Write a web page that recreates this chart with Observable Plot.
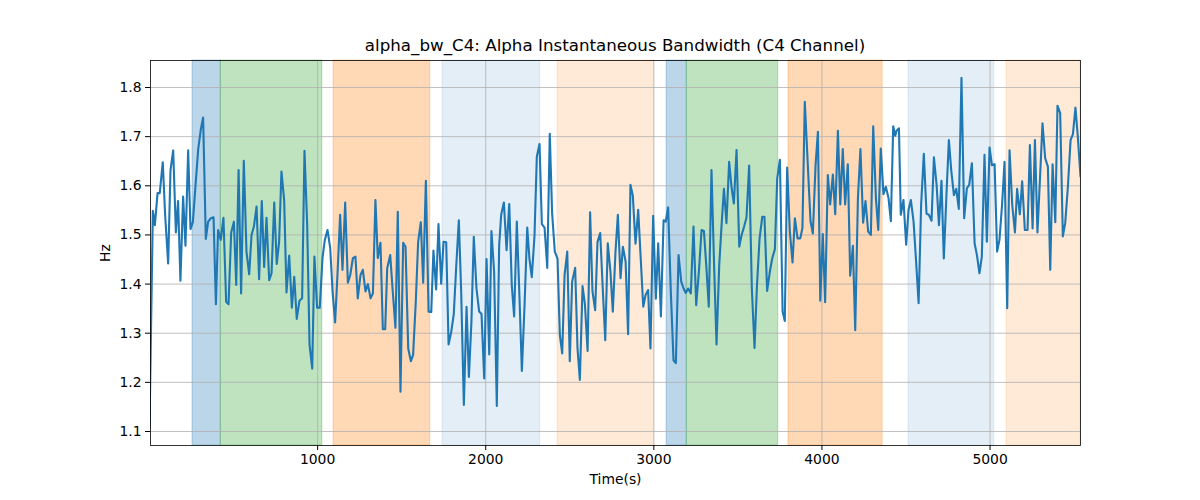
<!DOCTYPE html>
<html>
<head>
<meta charset="utf-8">
<script src="https://cdn.jsdelivr.net/npm/d3@7"></script>
<script src="https://cdn.jsdelivr.net/npm/@observablehq/plot@0.6"></script>
<style>
  body { margin: 0; background: white; }
  #wrap { width: 1200px; height: 500px; position: relative; background: white; }
  #title { width: 1200px; height: 55px; box-sizing: border-box; padding-left: 150px; padding-right: 120px;
           display: flex; align-items: flex-end; justify-content: center;
           font-family: "DejaVu Sans", sans-serif; font-size: 16.7px; line-height: 1; color: #000; padding-bottom: 1px; }
</style>
</head>
<body>
<div id="wrap">
  <div id="title">alpha_bw_C4: Alpha Instantaneous Bandwidth (C4 Channel)</div>
  <div id="chart"></div>
</div>
<script>
// Time (s) of each sample
const times = [0,20,32,48,61,79,93,111,125,141,157,170,184,200,214,230,244,258,274,290,305,319,335,349,365,381,395,408,424,440,456,470,486,502,516,530,545,561,577,593,607,621,637,652,668,682,
696,712,726,742,757,771,785,801,815,831,847,861,876,892,908,922,938,952,968,981,997,1013,1029,1043,1059,1075,1089,1104,1118,1134,1148,1164,1180,1194,1210,1225,1239,1255,1269,1285,1299,1315,1329,1344,1358,1374,
1388,1402,1414,1432,1447,1463,1477,1493,1509,1523,1539,1555,1568,1584,1598,1614,1628,1644,1660,1676,1689,1705,1719,1735,1749,1765,1779,1795,1810,1824,1840,1854,1870,1886,1900,1915,1929,1945,1961,1975,1991,2005,2021,2034,2050,2066,2080,
2092,2108,2124,2140,2155,2169,2185,2201,2215,2231,2247,2260,2274,2290,2304,2320,2334,2350,2366,2381,2395,2411,2427,2441,2455,2469,2485,2500,2514,2532,2546,2560,2576,2590,2606,2621,2635,2651,2665,2681,2697,2711,2726,2742,2756,2772,
2786,2802,2816,2832,2847,2861,2875,2891,2907,2921,2937,2951,2966,2980,2996,3012,3026,3042,3058,3071,3085,3101,3117,3131,3147,3163,3177,3190,3204,3220,3236,3252,3268,3284,3298,3313,3327,3343,3359,3373,3389,3403,3417,3432,3448,3462,
3476,3492,3508,3522,3537,3551,3567,3583,3599,3613,3629,3645,3658,3674,3690,3704,3720,3734,3750,3766,3779,3793,3809,3825,3839,3855,3871,3884,3898,3914,3932,3946,3962,3976,3990,4005,4019,4035,4049,4065,4079,4095,4109,4124,4138,4154,4168,
4184,4198,4214,4229,4245,4259,4275,4291,4305,4321,4335,4350,4366,4380,4396,4410,4424,4436,4444,4458,4469,4485,4501,4515,4529,4545,4559,4575,4590,4606,4622,4636,4652,4666,4682,4696,4711,4725,4741,4755,4769,4785,4799,4814,4830,4846,4862,
4876,4892,4908,4922,4937,4951,4967,4981,4997,5011,5027,5042,5056,5072,5086,5102,5116,5132,5148,5161,5177,5191,5207,5223,5237,5253,5267,5282,5298,5312,5328,5344,5358,5372,5388,5401,5417,5433,5447,5463,5479,5493,5508,5522,5538];

// Alpha instantaneous bandwidth (Hz)
const bandwidth = [1.107,1.549,1.520,1.585,1.585,1.648,1.541,1.442,1.632,1.672,1.505,1.569,1.407,1.578,1.478,1.672,1.512,1.526,1.602,1.675,1.714,1.739,1.492,1.527,1.534,1.536,1.359,1.510,1.490,1.535,1.364,1.359,1.505,1.527,1.398,1.632,1.381,1.651,1.466,1.420,1.500,1.517,1.558,1.410,1.569,1.435,
1.535,1.408,1.422,1.566,1.441,1.486,1.629,1.571,1.383,1.458,1.352,1.415,1.329,1.366,1.371,1.671,1.520,1.277,1.228,1.456,1.352,1.352,1.453,1.490,1.510,1.473,1.385,1.322,1.418,1.541,1.429,1.566,1.403,1.418,1.453,1.456,1.371,1.418,1.429,1.385,1.400,1.371,1.381,1.571,1.453,1.484,
1.308,1.308,1.432,1.459,1.385,1.311,1.547,1.181,1.484,1.476,1.269,1.243,1.256,1.364,1.486,1.526,1.403,1.610,1.344,1.343,1.468,1.389,1.522,1.401,1.486,1.485,1.277,1.303,1.339,1.432,1.530,1.385,1.154,1.354,1.211,1.323,1.496,1.391,1.344,1.339,1.208,1.451,1.257,1.508,1.425,1.152,1.479,
1.541,1.566,1.469,1.563,1.398,1.334,1.527,1.371,1.223,1.357,1.515,1.452,1.414,1.497,1.659,1.685,1.522,1.515,1.433,1.706,1.544,1.466,1.452,1.296,1.259,1.418,1.466,1.243,1.405,1.433,1.269,1.205,1.396,1.359,1.264,1.546,1.385,1.347,1.486,1.504,1.385,1.286,1.483,1.425,1.344,1.466,
1.541,1.412,1.476,1.446,1.298,1.602,1.580,1.482,1.551,1.459,1.354,1.378,1.388,1.269,1.539,1.370,1.483,1.334,1.530,1.527,1.556,1.385,1.245,1.239,1.459,1.405,1.391,1.382,1.391,1.381,1.517,1.357,1.425,1.510,1.508,1.432,1.354,1.632,1.432,1.277,1.439,1.520,1.594,1.524,1.649,1.598,
1.564,1.673,1.476,1.500,1.517,1.535,1.641,1.391,1.270,1.393,1.493,1.537,1.537,1.386,1.425,1.452,1.471,1.615,1.653,1.344,1.325,1.637,1.507,1.444,1.534,1.493,1.493,1.514,1.771,1.656,1.528,1.503,1.642,1.710,1.366,1.502,1.363,1.622,1.562,1.623,1.542,1.712,1.562,1.675,1.562,1.644,1.417,
1.478,1.306,1.575,1.675,1.525,1.569,1.507,1.500,1.721,1.575,1.510,1.676,1.583,1.598,1.575,1.528,1.721,1.702,1.712,1.717,1.541,1.571,1.480,1.551,1.571,1.527,1.452,1.361,1.561,1.665,1.543,1.541,1.529,1.658,1.602,1.520,1.610,1.452,1.585,1.693,1.632,1.581,1.594,1.553,1.820,1.534,1.595,
1.602,1.646,1.483,1.459,1.422,1.456,1.663,1.486,1.678,1.642,1.644,1.466,1.490,1.564,1.649,1.351,1.672,1.561,1.505,1.594,1.542,1.609,1.510,1.510,1.683,1.513,1.693,1.505,1.622,1.727,1.656,1.639,1.429,1.644,1.526,1.763,1.748,1.497,1.524,1.598,1.693,1.705,1.759,1.700,1.619];

// Shaded segments (start, end, kind)
const segStart = [256, 424, 1095, 1743, 2427, 3076, 3196, 3801, 4515, 5098];
const segEnd   = [424, 1028, 1670, 2324, 3002, 3196, 3740, 4361, 5025, 5538];
const segKind  = ["A", "B", "C", "D", "E", "A", "B", "C", "D", "E"];

const xTicks = [1000, 2000, 3000, 4000, 5000];
const yTicks = [1.1, 1.2, 1.3, 1.4, 1.5, 1.6, 1.7, 1.8];

const kindColor = {A: "#1f77b4", B: "#2ca02c", C: "#ff7f0e", D: "#1f77b4", E: "#ff7f0e"};
const kindAlpha = {A: 0.3, B: 0.3, C: 0.3, D: 0.12, E: 0.16};

const series = times.map((t, i) => ({t, v: bandwidth[i]}));
const segs = segStart.map((s, i) => ({start: s, end: segEnd[i], kind: segKind[i]}));

const chart = Plot.plot({
  width: 1200,
  height: 445,
  marginLeft: 150,
  marginRight: 120,
  marginTop: 5,
  marginBottom: 55,
  style: {fontFamily: "DejaVu Sans, sans-serif", fontSize: "13.9px", color: "black", background: "white"},
  x: {domain: [6, 5538]},
  y: {domain: [1.0715, 1.855]},
  marks: [
    Plot.rect(segs, {x1: "start", x2: "end", fill: d => kindColor[d.kind], fillOpacity: d => kindAlpha[d.kind],
                     stroke: d => kindColor[d.kind], strokeOpacity: d => kindAlpha[d.kind], strokeWidth: 1}),
    Plot.gridX(xTicks, {stroke: "#b0b0b0", strokeOpacity: 1, strokeWidth: 0.8}),
    Plot.gridY(yTicks, {stroke: "#b0b0b0", strokeOpacity: 1, strokeWidth: 0.8}),
    Plot.line(series, {x: "t", y: "v", stroke: "#1f77b4", strokeWidth: 2.1, strokeLinejoin: "round", clip: true}),
    Plot.frame({stroke: "black", strokeWidth: 0.8}),
    Plot.axisX(xTicks, {tickSize: 5, tickPadding: 4, tickFormat: d => String(d), label: "Time(s)", labelAnchor: "center", labelArrow: "none", labelOffset: 38}),
    Plot.axisY(yTicks, {tickSize: 5, tickPadding: 4, tickFormat: d => d.toFixed(1), label: "Hz", labelAnchor: "center", labelArrow: "none", labelOffset: 50})
  ]
});
document.getElementById("chart").appendChild(chart);
</script>
</body>
</html>
